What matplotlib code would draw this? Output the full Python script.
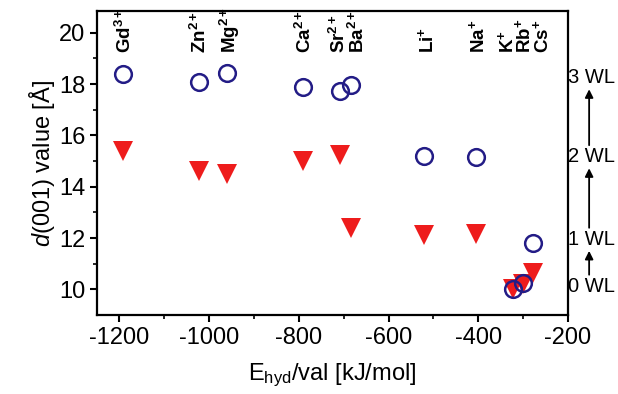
import matplotlib
matplotlib.use('Agg')
import matplotlib.pyplot as plt

plt.rcParams['font.family'] = ['Liberation Sans', 'DejaVu Sans']
plt.rcParams['mathtext.fontset'] = 'custom'
plt.rcParams['mathtext.rm'] = 'Liberation Sans'
plt.rcParams['mathtext.it'] = 'Liberation Sans:italic'
plt.rcParams['mathtext.bf'] = 'Liberation Sans:bold'
plt.rcParams['axes.unicode_minus'] = False

# ions, hydration energy per valence and d(001) values
ions = ['Gd', 'Zn', 'Mg', 'Ca', 'Sr', 'Ba', 'Li', 'Na', 'K', 'Rb', 'Cs']
charges = ['3+', '2+', '2+', '2+', '2+', '2+', '+', '+', '+', '+', '+']
e_hyd = [-1193, -1023, -960, -790, -708, -683, -521, -406, -323, -301, -277]
d_circle = [18.4, 18.1, 18.45, 17.9, 17.75, 17.95, 15.2, 15.15, 10.0, 10.25, 11.8]
d_triangle = [15.4, 14.6, 14.5, 15.0, 15.25, 12.4, 12.1, 12.15, 10.0, 10.2, 10.65]
# where the ion names sit along x (spread out for K, Rb, Cs)
label_x = [-1187, -1020, -953, -786, -711, -669, -515, -400, -335, -298, -258]

wl_names = ['0 WL', '1 WL', '2 WL', '3 WL']
wl_d = [10.12, 11.95, 15.17, 18.25]

fig = plt.figure(figsize=(6.18, 3.94), dpi=100)
ax = fig.add_axes([0.157, 0.2005, 0.762, 0.7715])

# triangles first, open circles on top
ax.plot(e_hyd, d_triangle, 'v', color='#ee1c1c', markersize=14, markeredgewidth=0)
ax.plot(e_hyd, d_circle, 'o', markerfacecolor='none', markeredgecolor='#231c86',
        markersize=12, markeredgewidth=1.8)

for x, ion, q in zip(label_x, ions, charges):
    ax.text(x, 19.2, r'$\mathbf{%s}^{\mathbf{%s}}$' % (ion, q), rotation=90,
            ha='center', va='bottom', fontsize=13.5)

ax.set_xlim(-1250, -200)
ax.set_ylim(9, 20.85)
ax.set_xticks([-1200, -1000, -800, -600, -400, -200])
ax.set_xticks([-1100, -900, -700, -500, -300], minor=True)
ax.set_yticks([10, 12, 14, 16, 18, 20])
ax.set_yticks([11, 13, 15, 17, 19], minor=True)
ax.tick_params(axis='both', which='major', labelsize=17, length=5, width=1.5, direction='out')
ax.tick_params(axis='both', which='minor', length=3, width=1.2, direction='out')
for s in ax.spines.values():
    s.set_linewidth(1.6)

ax.set_xlabel(r'E$_{\mathrm{hyd}}$/val [kJ/mol]', fontsize=17, labelpad=9)
ax.set_ylabel(r'$d$(001) value [Å]', fontsize=17, labelpad=1)

# water layer scale on the right
tr = ax.get_yaxis_transform()
for name, y in zip(wl_names, wl_d):
    ax.text(1.001, y, name, transform=tr, ha='left', va='center', fontsize=14.5,
            clip_on=False)
for y0, y1 in zip(wl_d[:-1], wl_d[1:]):
    ax.annotate('', xy=(1.045, y1 - 0.45), xytext=(1.045, y0 + 0.45),
                xycoords=tr, textcoords=tr,
                arrowprops=dict(arrowstyle='-|>', color='black', lw=1.3,
                                mutation_scale=12, shrinkA=0, shrinkB=0))

fig.savefig('out.png', dpi=100)
